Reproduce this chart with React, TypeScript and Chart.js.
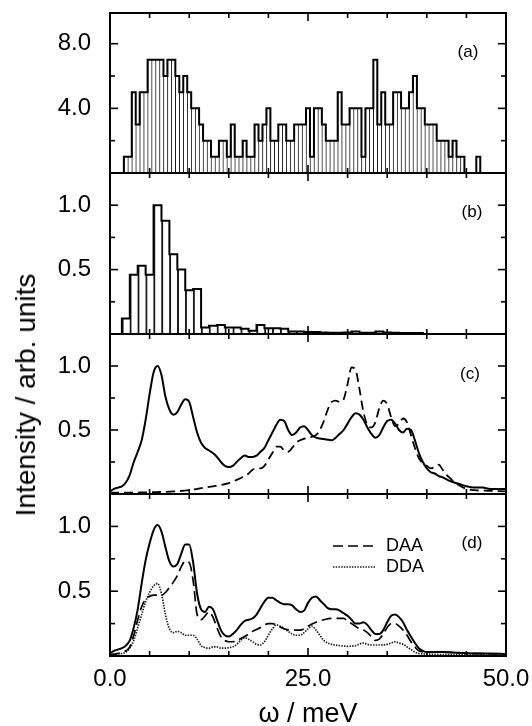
import React, { useEffect, useRef } from 'react';
import { Chart, registerables } from 'chart.js';

Chart.register(...registerables);

type Pt = [number, number];

// ---------------- data ----------------
const X_TICKS = [0, 5, 10, 15, 20, 25, 30, 35, 40, 45, 50];
const X_LABELED = [0, 25, 50];

// panel (a): histogram, bin centres (meV) and counts
const A_CENTERS = [
  2, 2.5, 3, 3.5, 4, 4.5, 5, 5.5, 6, 6.5,
  7, 7.5, 8, 8.5, 9, 9.5, 10, 10.5, 11, 11.5,
  12, 12.5, 13, 13.5, 14, 14.5, 15, 15.5, 16, 16.5,
  17, 17.5, 18, 18.5, 19, 19.5, 20, 20.5, 21, 21.5,
  22, 22.5, 23, 23.5, 24, 24.5, 25, 25.5, 26, 26.5,
  27, 27.5, 28, 28.5, 29, 29.5, 30, 30.5, 31, 31.5,
  32, 32.5, 33, 33.5, 34, 34.5, 35, 35.5, 36, 36.5,
  37, 37.5, 38, 38.5, 39, 39.5, 40, 40.5, 41, 41.5,
  42, 42.5, 43, 43.5, 44, 44.5, 46.5,
];
const A_COUNTS = [
  1, 1, 5, 3, 5, 5, 7, 7, 7, 7,
  6, 7, 7, 6, 5, 6, 5, 4, 4, 3,
  2, 2, 1, 1, 2, 2, 1, 3, 1, 1,
  2, 1, 1, 3, 2, 3, 4, 2, 2, 3,
  3, 2, 2, 3, 3, 3, 4, 1, 4, 4,
  3, 2, 2, 2, 5, 3, 3, 4, 4, 4,
  1, 4, 4, 7, 3, 5, 3, 3, 5, 5,
  4, 4, 5, 6, 4, 4, 3, 3, 3, 2,
  2, 2, 1, 2, 1, 1, 1,
];
const A_Y_TICKS = [2, 4, 6, 8];
const A_Y_LABELED = [4, 8];

// panel (b): histogram
const B_CENTERS = [
  2, 3, 4, 5, 6, 7, 8, 9, 10, 11, 12, 13, 14, 15, 16, 17, 18, 19, 20,
  21, 22, 23, 24, 25, 26, 27, 28, 29, 30, 31, 32, 33, 34, 35, 36, 37, 38, 39,
];
const B_VALUES = [
  0.12, 0.46, 0.53, 0.46, 1.0, 0.88, 0.62, 0.5, 0.34, 0.35, 0.05, 0.065, 0.07, 0.05, 0.05, 0.04, 0.025, 0.07, 0.045,
  0.045, 0.04, 0.02, 0.02, 0.015, 0.015, 0.012, 0.01, 0.01, 0.012, 0.02, 0.01, 0.01, 0.02, 0.012, 0.01, 0.008, 0.008, 0.008,
];
const UNIT_Y_TICKS = [0.25, 0.5, 0.75, 1.0];
const UNIT_Y_LABELED = [0.5, 1.0];

// panel (c)
const C_SOLID: Pt[] = [
  [0, 0.02], [0.5, 0.04], [1, 0.05], [1.5, 0.06], [2, 0.09], [2.5, 0.15], [3, 0.25], [3.5, 0.33], [4, 0.42],
  [4.5, 0.58], [5, 0.78], [5.5, 0.95], [6, 1.0], [6.5, 0.93], [7, 0.76], [7.5, 0.66], [8, 0.62], [8.5, 0.64],
  [9, 0.7], [9.5, 0.74], [10, 0.72], [10.5, 0.6], [11, 0.48], [11.5, 0.4], [12, 0.36], [12.5, 0.34], [13, 0.32],
  [13.5, 0.29], [14, 0.25], [14.5, 0.22], [15, 0.21], [15.5, 0.22], [16, 0.25], [16.5, 0.28], [17, 0.3],
  [17.5, 0.29], [18, 0.29], [18.5, 0.3], [19, 0.33], [19.5, 0.36], [20, 0.42], [20.5, 0.48], [21, 0.54],
  [21.5, 0.58], [22, 0.57], [22.5, 0.5], [23, 0.46], [23.5, 0.48], [24, 0.52], [24.5, 0.53], [25, 0.5],
  [25.5, 0.46], [26, 0.44], [27, 0.43], [28, 0.42], [28.5, 0.44], [29, 0.47], [29.5, 0.5], [30, 0.55],
  [30.5, 0.6], [31, 0.63], [31.5, 0.62], [32, 0.58], [32.5, 0.52], [33, 0.47], [33.5, 0.44], [34, 0.46],
  [34.5, 0.52], [35, 0.57], [35.5, 0.58], [36, 0.55], [36.5, 0.5], [37, 0.48], [37.5, 0.51], [38, 0.5],
  [38.5, 0.42], [39, 0.32], [39.5, 0.25], [40, 0.2], [40.5, 0.17], [41, 0.16], [41.5, 0.14], [42, 0.13],
  [43, 0.1], [44, 0.08], [45, 0.06], [46, 0.05], [47, 0.05], [48, 0.04], [49, 0.04], [50, 0.04],
];
const C_DASHED: Pt[] = [
  [0, 0.01], [2, 0.01], [4, 0.012], [6, 0.015], [8, 0.02], [10, 0.03], [11, 0.04], [12, 0.05], [13, 0.06],
  [14, 0.07], [15, 0.085], [16, 0.11], [17, 0.14], [17.5, 0.16], [18, 0.19], [18.5, 0.2], [19, 0.2],
  [19.5, 0.22], [20, 0.27], [20.5, 0.32], [21, 0.37], [21.5, 0.37], [22, 0.34], [22.5, 0.33], [23, 0.36],
  [23.5, 0.4], [24, 0.42], [25, 0.44], [26, 0.46], [26.5, 0.5], [27, 0.57], [27.5, 0.66], [28, 0.72],
  [28.5, 0.73], [29, 0.72], [29.5, 0.74], [30, 0.86], [30.5, 0.99], [31, 0.97], [31.5, 0.82], [32, 0.64],
  [32.5, 0.54], [33, 0.52], [33.5, 0.56], [34, 0.67], [34.5, 0.73], [35, 0.7], [35.5, 0.6], [36, 0.53],
  [36.5, 0.55], [37, 0.59], [37.5, 0.56], [38, 0.46], [38.5, 0.36], [39, 0.28], [39.5, 0.24], [40, 0.22],
  [40.5, 0.2], [41, 0.21], [41.5, 0.23], [42, 0.19], [42.5, 0.15], [43, 0.12], [43.5, 0.09], [44, 0.07],
  [45, 0.04], [46, 0.03], [48, 0.025], [50, 0.02],
];

// panel (d)
const D_SOLID: Pt[] = [
  [0, 0.02], [0.5, 0.04], [1, 0.05], [1.5, 0.06], [2, 0.08], [2.5, 0.12], [3, 0.22], [3.5, 0.36], [4, 0.56],
  [4.5, 0.74], [5, 0.87], [5.5, 0.97], [6, 1.01], [6.5, 0.96], [7, 0.84], [7.5, 0.73], [8, 0.69], [8.5, 0.71],
  [9, 0.79], [9.5, 0.86], [10, 0.86], [10.5, 0.72], [11, 0.48], [11.5, 0.36], [12, 0.34], [12.5, 0.38],
  [13, 0.36], [13.5, 0.28], [14, 0.2], [14.5, 0.16], [15, 0.15], [15.5, 0.17], [16, 0.2], [16.5, 0.24],
  [17, 0.27], [17.5, 0.28], [18, 0.29], [18.5, 0.32], [19, 0.37], [19.5, 0.42], [20, 0.45], [20.5, 0.45],
  [21, 0.43], [21.5, 0.41], [22, 0.4], [22.5, 0.4], [23, 0.39], [23.5, 0.36], [24, 0.34], [24.5, 0.35],
  [25, 0.41], [25.5, 0.45], [26, 0.46], [26.5, 0.43], [27, 0.4], [27.5, 0.37], [28, 0.36], [28.5, 0.36],
  [29, 0.35], [29.5, 0.33], [30, 0.31], [30.5, 0.28], [31, 0.25], [31.5, 0.25], [32, 0.26], [32.5, 0.24],
  [33, 0.2], [33.5, 0.17], [34, 0.17], [34.5, 0.2], [35, 0.26], [35.5, 0.31], [36, 0.32], [36.5, 0.3],
  [37, 0.26], [37.5, 0.2], [38, 0.15], [38.5, 0.1], [39, 0.06], [39.5, 0.04], [40, 0.03], [42, 0.03],
  [44, 0.025], [46, 0.02], [48, 0.02], [50, 0.015],
];
const D_DAA: Pt[] = [
  [0, 0.01], [1, 0.02], [2, 0.04], [2.5, 0.07], [3, 0.16], [3.5, 0.28], [4, 0.38], [4.5, 0.44], [5, 0.46],
  [5.5, 0.47], [6, 0.47], [6.5, 0.47], [7, 0.49], [7.5, 0.53], [8, 0.57], [8.5, 0.62], [9, 0.69], [9.5, 0.73],
  [10, 0.72], [10.5, 0.58], [11, 0.32], [11.5, 0.28], [12, 0.31], [12.5, 0.34], [13, 0.3], [13.5, 0.22],
  [14, 0.15], [14.5, 0.12], [15, 0.11], [15.5, 0.11], [16, 0.12], [17, 0.15], [18, 0.19], [19, 0.22],
  [19.5, 0.24], [20, 0.25], [20.5, 0.25], [21, 0.24], [22, 0.21], [23, 0.2], [24, 0.2], [24.5, 0.21],
  [25, 0.23], [26, 0.26], [27, 0.28], [28, 0.29], [29, 0.29], [29.5, 0.29], [30, 0.27], [30.5, 0.25],
  [31, 0.23], [31.5, 0.21], [32, 0.2], [32.5, 0.18], [33, 0.15], [33.5, 0.12], [34, 0.13], [34.5, 0.17],
  [35, 0.22], [35.5, 0.25], [36, 0.25], [36.5, 0.23], [37, 0.2], [37.5, 0.16], [38, 0.11], [38.5, 0.07],
  [39, 0.04], [40, 0.03], [42, 0.03], [44, 0.025], [46, 0.02], [50, 0.015],
];
const D_DDA: Pt[] = [
  [0, 0.01], [1, 0.015], [2, 0.03], [2.5, 0.06], [3, 0.12], [3.5, 0.22], [4, 0.32], [4.5, 0.42], [5, 0.49],
  [5.5, 0.54], [6, 0.56], [6.5, 0.48], [7, 0.32], [7.5, 0.21], [8, 0.18], [8.5, 0.19], [9, 0.18], [9.5, 0.16],
  [10, 0.16], [10.5, 0.16], [11, 0.13], [11.5, 0.08], [12, 0.065], [12.5, 0.06], [13, 0.07], [13.5, 0.07],
  [14, 0.06], [14.5, 0.06], [15, 0.065], [15.5, 0.07], [16, 0.09], [16.5, 0.12], [17, 0.14], [17.5, 0.13],
  [18, 0.11], [18.5, 0.09], [19, 0.085], [19.5, 0.11], [20, 0.16], [20.5, 0.21], [21, 0.24], [21.5, 0.23],
  [22, 0.21], [22.5, 0.19], [23, 0.17], [23.5, 0.16], [24, 0.16], [24.5, 0.18], [25, 0.21], [25.5, 0.23],
  [26, 0.2], [26.5, 0.16], [27, 0.12], [27.5, 0.1], [28, 0.09], [29, 0.08], [30, 0.075], [31, 0.08],
  [32, 0.1], [32.5, 0.09], [33, 0.085], [34, 0.085], [35, 0.09], [35.5, 0.1], [36, 0.11], [36.5, 0.1],
  [37, 0.09], [37.5, 0.07], [38, 0.05], [38.5, 0.03], [39, 0.02], [40, 0.015], [45, 0.01], [50, 0.01],
];

const PANEL_LABELS = ['(a)', '(b)', '(c)', '(d)'];
const LEGEND_LABELS = ['DAA', 'DDA'];
const X_TITLE = 'ω / meV';
const Y_TITLE = 'Intensity / arb. units';

// ---------------- layout ----------------
const W = 532;
const LEFT = 110;
const RIGHT = 506;
const PAD = 6;
const X_AXIS_H = 70;
const FONT = '"Liberation Sans", Arial, Helvetica, sans-serif';

const toXY = (pts: Pt[]) => pts.map(([x, y]) => ({ x, y }));

function histBars(centers: number[], values: number[]) {
  return centers.map((x, i) => ({ x, y: values[i] }));
}

function histOutline(centers: number[], values: number[]) {
  let step = Infinity;
  for (let i = 1; i < centers.length; i++) step = Math.min(step, centers[i] - centers[i - 1]);
  const h = step / 2;
  const out: { x: number; y: number }[] = [];
  for (let i = 0; i < centers.length; i++) {
    const l = centers[i] - h;
    const r = centers[i] + h;
    if (i === 0 || Math.abs(centers[i - 1] + h - l) > 1e-9) out.push({ x: l, y: 0 });
    out.push({ x: l, y: values[i] }, { x: r, y: values[i] });
    if (i === centers.length - 1 || Math.abs(centers[i + 1] - h - r) > 1e-9) out.push({ x: r, y: 0 });
  }
  return out;
}

const frameTicks = {
  id: 'frameTicks',
  afterDatasetsDraw(chart: any, _args: any, opts: any) {
    const { ctx, chartArea: a, scales } = chart;
    const xs = scales.x;
    const ys = scales.y;
    ctx.save();
    ctx.strokeStyle = '#000';
    ctx.setLineDash([]);
    ctx.lineWidth = 1.6;
    const seg = (x1: number, y1: number, x2: number, y2: number) => {
      ctx.beginPath();
      ctx.moveTo(x1, y1);
      ctx.lineTo(x2, y2);
      ctx.stroke();
    };
    for (const v of opts.xTicks as number[]) {
      if (v <= xs.min || v >= xs.max) continue;
      const px = xs.getPixelForValue(v);
      const len = (opts.xMajor as number[]).includes(v) ? 8 : 5;
      seg(px, a.bottom, px, a.bottom - len);
      seg(px, a.top, px, a.top + len);
    }
    for (const v of opts.yTicks as number[]) {
      if (v <= ys.min || v >= ys.max) continue;
      const py = ys.getPixelForValue(v);
      const len = (opts.yMajor as number[]).includes(v) ? 8 : 5;
      seg(a.left, py, a.left + len, py);
      seg(a.right, py, a.right - len, py);
    }
    ctx.lineWidth = 2;
    ctx.strokeRect(a.left, a.top, a.right - a.left, a.bottom - a.top);

    ctx.fillStyle = '#000';
    ctx.font = `17px ${FONT}`;
    ctx.textAlign = 'center';
    ctx.textBaseline = 'middle';
    ctx.fillText(opts.label, a.right - opts.labelDx, a.top + opts.labelDy);

    if (opts.legend) {
      ctx.textAlign = 'left';
      opts.legend.forEach((item: any) => {
        const ds = chart.data.datasets[item.dataset];
        const y = a.top + item.dy;
        ctx.save();
        ctx.strokeStyle = ds.borderColor;
        ctx.lineWidth = ds.borderWidth;
        ctx.setLineDash(ds.borderDash || []);
        seg(item.x1, y, item.x2, y);
        ctx.restore();
        ctx.font = `18px ${FONT}`;
        ctx.fillText(ds.label, item.tx, y);
      });
    }
    ctx.restore();
  },
};

function buildOptions(p: {
  yMax: number;
  yTicks: number[];
  yLabeled: number[];
  showX: boolean;
  label: string;
  labelDx: number;
  labelDy: number;
  legend?: any[];
}) {
  return {
    animation: false,
    responsive: false,
    devicePixelRatio: 1,
    layout: { padding: { left: 0, right: W - RIGHT, top: PAD, bottom: p.showX ? 0 : PAD } },
    plugins: {
      legend: { display: false },
      tooltip: { enabled: false },
      frameTicks: {
        xTicks: X_TICKS,
        xMajor: X_LABELED,
        yTicks: p.yTicks,
        yMajor: p.yLabeled,
        label: p.label,
        labelDx: p.labelDx,
        labelDy: p.labelDy,
        legend: p.legend,
      },
    },
    scales: {
      x: {
        type: 'linear',
        min: 0,
        max: 50,
        offset: false,
        display: p.showX,
        grid: { display: false, drawTicks: false },
        border: { display: false },
        afterBuildTicks: (s: any) => {
          s.ticks = X_LABELED.map((v) => ({ value: v }));
        },
        ticks: {
          color: '#000',
          font: { family: FONT, size: 24 },
          padding: 9,
          maxRotation: 0,
          autoSkip: false,
          callback: (v: any) => Number(v).toFixed(1),
        },
        title: {
          display: true,
          text: X_TITLE,
          color: '#000',
          font: { family: FONT, size: 27, lineHeight: 1 },
          padding: { top: 0, bottom: -2 },
        },
        afterFit: (s: any) => {
          s.height = p.showX ? X_AXIS_H : 0;
          s.paddingLeft = 0;
          s.paddingRight = 0;
        },
      },
      y: {
        type: 'linear',
        min: 0,
        max: p.yMax,
        grid: { display: false, drawTicks: false },
        border: { display: false },
        afterBuildTicks: (s: any) => {
          s.ticks = p.yLabeled.map((v) => ({ value: v }));
        },
        ticks: {
          color: '#000',
          font: { family: FONT, size: 24 },
          padding: 19,
          callback: (v: any) => Number(v).toFixed(1),
        },
        afterFit: (s: any) => {
          s.width = LEFT;
          s.paddingTop = 0;
          s.paddingBottom = 0;
        },
      },
    },
  };
}

function histConfig(centers: number[], values: number[], dividerWidth: number, p: any) {
  return {
    type: 'bar',
    data: {
      datasets: [
        {
          type: 'line',
          data: histOutline(centers, values),
          borderColor: '#000',
          borderWidth: 2,
          pointRadius: 0,
          tension: 0,
          fill: false,
          order: 0,
        },
        {
          type: 'bar',
          data: histBars(centers, values),
          backgroundColor: '#fff',
          borderColor: '#1a1a1a',
          borderWidth: { left: dividerWidth, right: 0, top: 0, bottom: 0 },
          borderSkipped: false,
          barPercentage: 1,
          categoryPercentage: 1,
          grouped: false,
          order: 1,
        },
      ],
    },
    options: buildOptions(p),
    plugins: [frameTicks],
  };
}

function lineDs(pts: Pt[], extra: any) {
  return {
    type: 'line',
    data: toXY(pts),
    borderColor: '#000',
    borderWidth: 2,
    pointRadius: 0,
    fill: false,
    cubicInterpolationMode: 'monotone',
    ...extra,
  };
}

function Panel({ top, height, build }: { top: number; height: number; build: () => any }) {
  const ref = useRef<HTMLCanvasElement>(null);
  useEffect(() => {
    const chart = new Chart(ref.current as HTMLCanvasElement, build());
    return () => chart.destroy();
  }, []);
  return (
    <canvas
      ref={ref}
      width={W}
      height={height}
      style={{ position: 'absolute', left: 0, top, width: W, height, display: 'block' }}
    />
  );
}

export default function App() {
  const panels = [
    { top: 13, bottom: 173 },
    { top: 173, bottom: 334 },
    { top: 334, bottom: 494 },
    { top: 494, bottom: 656 },
  ];

  const buildA = () =>
    histConfig(A_CENTERS, A_COUNTS, 1, {
      yMax: 9.9,
      yTicks: A_Y_TICKS,
      yLabeled: A_Y_LABELED,
      showX: false,
      label: PANEL_LABELS[0],
      labelDx: 38,
      labelDy: 39,
    });

  const buildB = () =>
    histConfig(B_CENTERS, B_VALUES, 2, {
      yMax: 1.25,
      yTicks: UNIT_Y_TICKS,
      yLabeled: UNIT_Y_LABELED,
      showX: false,
      label: PANEL_LABELS[1],
      labelDx: 34,
      labelDy: 39,
    });

  const buildC = () => ({
    type: 'line',
    data: {
      datasets: [
        lineDs(C_SOLID, { label: 'total', borderWidth: 2 }),
        lineDs(C_DASHED, { label: 'model', borderWidth: 1.8, borderDash: [9, 5] }),
      ],
    },
    options: buildOptions({
      yMax: 1.25,
      yTicks: UNIT_Y_TICKS,
      yLabeled: UNIT_Y_LABELED,
      showX: false,
      label: PANEL_LABELS[2],
      labelDx: 36,
      labelDy: 40,
    }),
    plugins: [frameTicks],
  });

  const buildD = () => ({
    type: 'line',
    data: {
      datasets: [
        lineDs(D_SOLID, { label: 'total', borderWidth: 2 }),
        lineDs(D_DAA, { label: LEGEND_LABELS[0], borderWidth: 1.7, borderDash: [10, 5] }),
        lineDs(D_DDA, { label: LEGEND_LABELS[1], borderWidth: 1.7, borderDash: [1.5, 1.2], borderColor: '#222' }),
      ],
    },
    options: buildOptions({
      yMax: 1.25,
      yTicks: UNIT_Y_TICKS,
      yLabeled: UNIT_Y_LABELED,
      showX: true,
      label: PANEL_LABELS[3],
      labelDx: 34,
      labelDy: 49,
      legend: [
        { dataset: 1, x1: 333, x2: 376, tx: 386, dy: 52 },
        { dataset: 2, x1: 333, x2: 376, tx: 386, dy: 73 },
      ],
    }),
    plugins: [frameTicks],
  });

  const builders = [buildA, buildB, buildC, buildD];

  return (
    <div
      style={{
        position: 'absolute',
        left: 0,
        top: 0,
        width: W,
        height: 726,
        background: '#fff',
        overflow: 'hidden',
      }}
    >
      {panels.map((pn, i) => {
        const top = pn.top - PAD;
        const height = i === 3 ? PAD + (pn.bottom - pn.top) + X_AXIS_H : pn.bottom - pn.top + 2 * PAD;
        return <Panel key={i} top={top} height={height} build={builders[i]} />;
      })}
      <div
        style={{
          position: 'absolute',
          left: 26,
          top: 395,
          transform: 'translate(-50%, -50%) rotate(-90deg)',
          whiteSpace: 'nowrap',
          fontFamily: FONT,
          fontSize: 28,
          lineHeight: '28px',
          color: '#000',
        }}
      >
        {Y_TITLE}
      </div>
    </div>
  );
}
